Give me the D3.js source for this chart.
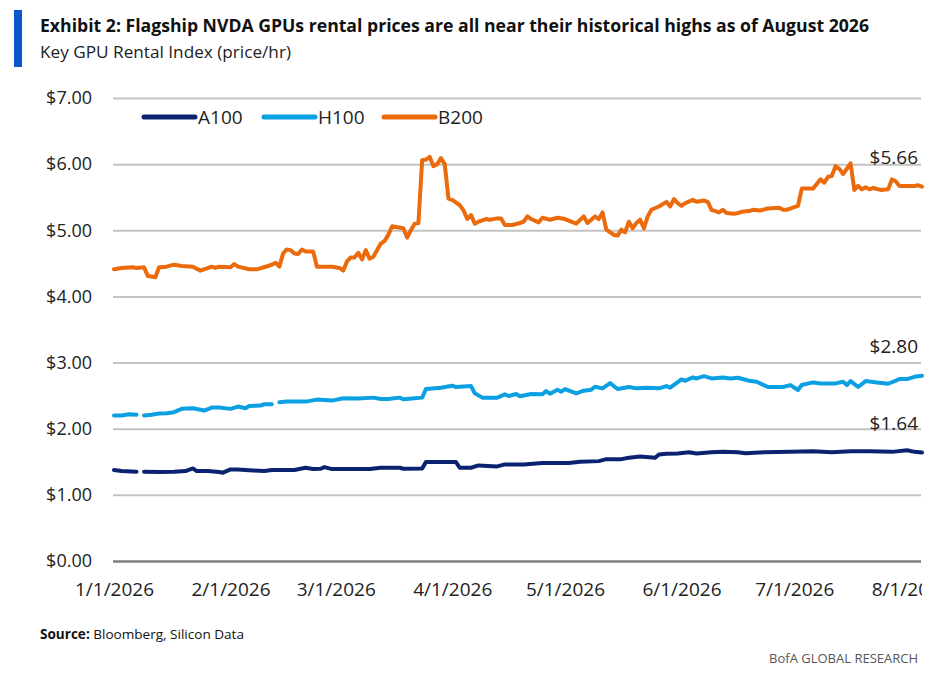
<!DOCTYPE html>
<html>
<head>
<meta charset="utf-8">
<script src="https://cdn.jsdelivr.net/npm/d3@7"></script>
<style>
  html, body { margin: 0; padding: 0; background: #fff; }
  svg { display: block; }
  text { font-family: "Open Sans", "Noto Sans", "DejaVu Sans", sans-serif; }
</style>
</head>
<body>
<svg id="chart" width="942" height="686"></svg>
<script>
// ---------------- DATA ----------------
const titleText = "Exhibit 2: Flagship NVDA GPUs rental prices are all near their historical highs as of August 2026";
const subtitleText = "Key GPU Rental Index (price/hr)";
const seriesNames = ["A100", "H100", "B200"];
const seriesColors = ["#0b2270", "#0ba0e2", "#ea6a0c"];
const yTickValues = [0, 1, 2, 3, 4, 5, 6, 7];
const xTickDates = ["1/1", "2/1", "3/1", "4/1", "5/1", "6/1", "7/1", "8/1"];
const xTickLabels = ["1/1/2026", "2/1/2026", "3/1/2026", "4/1/2026", "5/1/2026", "6/1/2026", "7/1/2026", "8/1/2026"];
const endLabels = ["$1.64", "$2.80", "$5.66"];

const b200Dates = ["1/1","1/3","1/6","1/7","1/9","1/10","1/11","1/12","1/13","1/15","1/17","1/19","1/22","1/24","1/27","1/28","1/29",
"2/1","2/2","2/3","2/6","2/8","2/11","2/12","2/13","2/14","2/15","2/16","2/17","2/18","2/19","2/20","2/21","2/23","2/24","2/26","2/28",
"3/2","3/3","3/4","3/5","3/6","3/7","3/8","3/9","3/10","3/11","3/13","3/14","3/15","3/16","3/17","3/19","3/20","3/21","3/22","3/23","3/24","3/25","3/26","3/27","3/28","3/29","3/30","3/31",
"4/1","4/3","4/4","4/5","4/6","4/7","4/8","4/10","4/11","4/13","4/14","4/15","4/17","4/19","4/20","4/21","4/22","4/24","4/25","4/27","4/29",
"5/1","5/4","5/6","5/7","5/9","5/10","5/11","5/12","5/14","5/15","5/16","5/17","5/18","5/19","5/20","5/21","5/22","5/23","5/24","5/26","5/28","5/29","5/30","5/31",
"6/1","6/2","6/4","6/5","6/7","6/8","6/9","6/11","6/12","6/13","6/15","6/16","6/17","6/19","6/20","6/22","6/24","6/27","6/28","6/29",
"7/1","7/2","7/3","7/6","7/8","7/9","7/10","7/11","7/12","7/13","7/14","7/15","7/16","7/17","7/18","7/19","7/20","7/21","7/22","7/24","7/26","7/27","7/28","7/29",
"8/2","8/3","8/4"];
const b200Values = [4.41,4.43,4.44,4.43,4.44,4.31,4.30,4.29,4.44,4.45,4.48,4.46,4.45,4.39,4.45,4.43,4.45,
4.44,4.49,4.45,4.41,4.41,4.46,4.48,4.51,4.45,4.65,4.71,4.70,4.65,4.64,4.71,4.68,4.68,4.45,4.45,4.45,
4.43,4.39,4.53,4.59,4.59,4.66,4.56,4.70,4.57,4.60,4.80,4.84,4.93,5.06,5.05,5.03,4.89,5.00,5.10,5.11,6.06,6.07,6.11,5.97,6.00,6.09,6.00,5.48,
5.46,5.38,5.30,5.17,5.23,5.10,5.13,5.17,5.16,5.18,5.18,5.08,5.08,5.11,5.13,5.21,5.17,5.12,5.19,5.16,5.19,
5.17,5.10,5.21,5.11,5.21,5.17,5.27,5.01,4.93,4.92,5.01,4.97,5.13,5.03,5.11,5.16,5.03,5.21,5.31,5.36,5.43,5.36,5.47,5.41,
5.37,5.41,5.46,5.43,5.45,5.43,5.31,5.27,5.31,5.26,5.25,5.26,5.28,5.29,5.31,5.30,5.33,5.34,5.31,5.31,
5.35,5.37,5.63,5.63,5.77,5.72,5.81,5.82,5.97,5.93,5.85,5.93,6.01,5.61,5.67,5.62,5.65,5.62,5.64,5.61,5.62,5.77,5.74,5.67,
5.67,5.68,5.66];

const h100Dates = ["1/1","1/3","1/5","1/7","1/8","1/9","1/11","1/13","1/15","1/17","1/19","1/22","1/25","1/27","1/29",
"2/1","2/3","2/5","2/6","2/9","2/10","2/12","2/13","2/14","2/16","2/21","2/24","2/28",
"3/3","3/7","3/11","3/13","3/15","3/18","3/19","3/22","3/24","3/25","3/29",
"4/1","4/2","4/4","4/6","4/7","4/9","4/13","4/15","4/16","4/18","4/19","4/22","4/25","4/26","4/27","4/29","4/30",
"5/1","5/4","5/6","5/8","5/9","5/11","5/13","5/15","5/18","5/20","5/23","5/26","5/28","5/29",
"6/1","6/2","6/4","6/5","6/7","6/9","6/12","6/14","6/16","6/19","6/21","6/24","6/28","6/30",
"7/2","7/3","7/6","7/8","7/12","7/14","7/15","7/16","7/18","7/20","7/23","7/26","7/29","7/31",
"8/2","8/4"];
const h100Values = [2.20,2.20,2.22,2.21,null,2.20,2.21,2.23,2.235,2.25,2.30,2.31,2.275,2.32,2.32,
2.30,2.335,2.31,2.345,2.35,2.37,2.37,null,2.40,2.41,2.41,2.44,2.425,
2.46,2.455,2.47,2.45,2.45,2.47,2.445,2.46,2.47,2.60,2.62,
2.65,2.63,2.64,2.645,2.535,2.47,2.47,2.52,2.495,2.525,2.49,2.525,2.52,2.57,2.53,2.59,2.56,
2.60,2.535,2.575,2.59,2.635,2.61,2.69,2.60,2.63,2.61,2.62,2.61,2.645,2.62,
2.745,2.725,2.775,2.76,2.795,2.76,2.775,2.76,2.77,2.725,2.71,2.63,2.63,2.66,
2.585,2.66,2.70,2.685,2.685,2.71,2.66,2.72,2.63,2.72,2.70,2.68,2.75,2.75,
2.785,2.80];

const a100Dates = ["1/1","1/3","1/7","1/8","1/9","1/13","1/17","1/20","1/22","1/23","1/26","1/29","1/30",
"2/1","2/3","2/7","2/10","2/12","2/18","2/21","2/23","2/25","2/26","2/28",
"3/4","3/10","3/13","3/18","3/19","3/24","3/25",
"4/2","4/3","4/6","4/8","4/13","4/15","4/20","4/25","4/29",
"5/2","5/5","5/10","5/12","5/16","5/18","5/21","5/25","5/26","5/28","5/31",
"6/3","6/5","6/9","6/12","6/16","6/18","6/23","6/30",
"7/6","7/11","7/16","7/21","7/27","7/31",
"8/2","8/4"];
const a100Values = [1.375,1.36,1.35,null,1.35,1.345,1.35,1.36,1.40,1.36,1.36,1.345,1.335,
1.385,1.385,1.37,1.36,1.375,1.375,1.41,1.39,1.395,1.42,1.39,
1.39,1.39,1.41,1.41,1.395,1.40,1.495,
1.495,1.41,1.41,1.445,1.43,1.46,1.46,1.48,1.48,
1.48,1.50,1.51,1.54,1.54,1.56,1.58,1.56,1.61,1.62,1.625,
1.645,1.625,1.645,1.65,1.645,1.63,1.645,1.65,
1.66,1.645,1.66,1.66,1.65,1.675,
1.65,1.64];

// ---------------- CHART ----------------
const parseMD = s => { const p = s.split("/").map(Number); return new Date(2026, p[0] - 1, p[1]); };
const zip = (ds, vs) => ds.map((d, i) => ({ date: parseMD(d), v: vs[i] }));
const series = [zip(a100Dates, a100Values), zip(h100Dates, h100Values), zip(b200Dates, b200Values)];

const svg = d3.select("#chart");
const plotLeft = 113, plotRight = 921, plotTop = 98, plotBottom = 561;

const x = d3.scaleTime().domain([parseMD("1/1"), parseMD("8/4")]).range([plotLeft + 1, plotRight + 1]);
const y = d3.scaleLinear().domain([0, 7]).range([plotBottom, plotTop]);

// title block
svg.append("rect").attr("x", 14).attr("y", 10).attr("width", 8).attr("height", 57).attr("fill", "#0a56cc");
svg.append("text").attr("x", 40).attr("y", 32)
  .attr("font-size", 17.5).attr("font-weight", 700).attr("fill", "#111")
  .attr("textLength", 829).attr("lengthAdjust", "spacingAndGlyphs").text(titleText);
svg.append("text").attr("x", 40).attr("y", 58)
  .attr("font-size", 17).attr("fill", "#222")
  .attr("textLength", 251).attr("lengthAdjust", "spacingAndGlyphs").text(subtitleText);

// gridlines + y ticks
const yAxis = d3.axisLeft(y).tickValues(yTickValues).tickSize(-(plotRight - plotLeft)).tickPadding(21)
  .tickFormat(d => "$" + d3.format(".2f")(d));
const gy = svg.append("g").attr("transform", `translate(${plotLeft},0)`).call(yAxis);
gy.select(".domain").remove();
gy.selectAll(".tick line").attr("stroke", d => d === 0 ? "#7f7f7f" : "#c3c3c3").attr("stroke-width", d => d === 0 ? 2.5 : 2);
gy.selectAll(".tick text").attr("font-size", 18).attr("fill", "#222")
  .attr("font-family", '"Open Sans", "Noto Sans", sans-serif');

// x axis labels (clipped at the chart's right edge, as in the source)
svg.append("defs").append("clipPath").attr("id", "xclip")
  .append("rect").attr("x", 0).attr("y", plotBottom).attr("width", plotRight + 1).attr("height", 60);
const xAxis = d3.axisBottom(x).tickValues(xTickDates.map(parseMD)).tickSize(0).tickPadding(22)
  .tickFormat((d, i) => xTickLabels[i]);
const gxWrap = svg.append("g").attr("clip-path", "url(#xclip)");
const gx = gxWrap.append("g").attr("transform", `translate(0,${plotBottom})`).call(xAxis);
gx.select(".domain").remove();
gx.selectAll(".tick text").attr("font-size", 19).attr("fill", "#222")
  .attr("font-family", '"Open Sans", "Noto Sans", sans-serif');

// lines
const line = d3.line().defined(d => d.v != null).x(d => x(d.date)).y(d => y(d.v));
series.forEach((s, i) => {
  svg.append("path").datum(s).attr("d", line)
    .attr("fill", "none").attr("stroke", seriesColors[i]).attr("stroke-width", 4)
    .attr("stroke-linejoin", "round").attr("stroke-linecap", "round");
});

// end labels
series.forEach((s, i) => {
  const last = s[s.length - 1];
  svg.append("text").attr("x", x(last.date) - 4).attr("y", y(last.v) - 23)
    .attr("text-anchor", "end").attr("font-size", 19).attr("fill", "#222").text(endLabels[i]);
});

// legend
const legendX = [144, 264, 384];
seriesNames.forEach((n, i) => {
  svg.append("line").attr("x1", legendX[i]).attr("x2", legendX[i] + 51).attr("y1", 117).attr("y2", 117)
    .attr("stroke", seriesColors[i]).attr("stroke-width", 5).attr("stroke-linecap", "round");
  svg.append("text").attr("x", legendX[i] + 54).attr("y", 117).attr("dy", "0.35em")
    .attr("font-size", 19).attr("fill", "#222").text(n);
});

// footer
const src = svg.append("text").attr("x", 40).attr("y", 639).attr("font-size", 13.5).attr("fill", "#111")
  .attr("textLength", 204).attr("lengthAdjust", "spacingAndGlyphs");
src.append("tspan").attr("font-weight", 700).text("Source:");
src.append("tspan").text(" Bloomberg, Silicon Data");
svg.append("text").attr("x", 918).attr("y", 663).attr("text-anchor", "end")
  .attr("font-size", 13).attr("fill", "#555").text("BofA GLOBAL RESEARCH");
</script>
</body>
</html>
